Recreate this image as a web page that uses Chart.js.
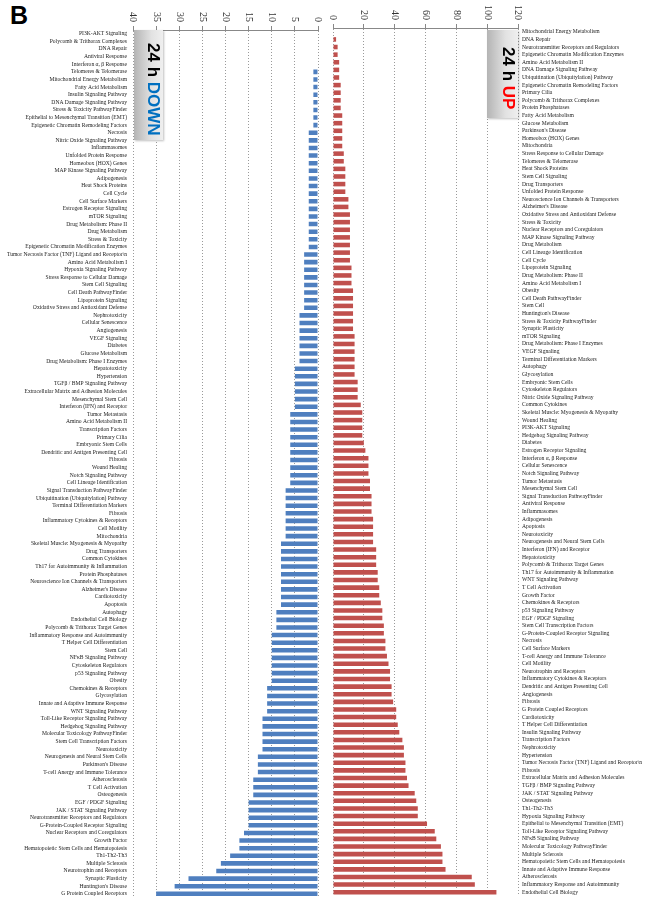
<!DOCTYPE html>
<html>
<head>
<meta charset="utf-8">
<script src="https://cdn.jsdelivr.net/npm/chart.js@4/dist/chart.umd.min.js"></script>
<style>
  body { margin: 0; background: #fff; }
  #wrap { position: relative; width: 655px; height: 907px; overflow: hidden; }
  canvas { position: absolute; top: 0; }
  .tag { position: absolute; font: bold 17px "Liberation Sans", Arial, sans-serif;
         writing-mode: vertical-rl; text-align: center; padding-top: 8px; box-sizing: border-box;
         background: linear-gradient(to right, #b4b4b4, #e2e2e2 60%, #efefef);
         box-shadow: 1px 1px 2px rgba(0,0,0,0.25); }
  #letter { position: absolute; left: 10px; top: 1px; font: bold 25px "Liberation Sans", Arial, sans-serif; }
</style>
</head>
<body>
<div id="wrap">
  <div id="letter">B</div>
  <canvas id="down" width="328" height="907" style="left:0"></canvas>
  <canvas id="up" width="335" height="907" style="left:320px"></canvas>
  <div class="tag" style="left:134px; top:30px; width:29px; height:110px">24 h <span style="color:#0070c0">DOWN</span></div>
  <div class="tag" style="left:487px; top:30px; width:31px; height:88px">24 h <span style="color:#ff0000">UP</span></div>
</div>
<script>
// 24 h DOWN
const downLabels = [
  "PI3K-AKT Signaling", "Polycomb & Trithorax Complexes", "DNA Repair", "Antiviral Response",
  "Interferon α, β Response", "Telomeres & Telomerase", "Mitochondrial Energy Metabolism",
  "Fatty Acid Metabolism", "Insulin Signaling Pathway", "DNA Damage Signaling Pathway",
  "Stress & Toxicity PathwayFinder", "Epithelial to Mesenchymal Transition (EMT)",
  "Epigenetic Chromatin Remodeling Factors", "Necrosis", "Nitric Oxide Signaling Pathway",
  "Inflammasomes", "Unfolded Protein Response", "Homeobox (HOX) Genes", "MAP Kinase Signaling Pathway",
  "Adipogenesis", "Heat Shock Proteins", "Cell Cycle", "Cell Surface Markers",
  "Estrogen Receptor Signaling", "mTOR Signaling", "Drug Metabolism: Phase II", "Drug Metabolism",
  "Stress & Toxicity", "Epigenetic Chromatin Modification Enzymes",
  "Tumor Necrosis Factor (TNF) Ligand and Receptor\\n", "Amino Acid Metabolism I",
  "Hypoxia Signaling Pathway", "Stress Response to Cellular Damage", "Stem Cell Signaling",
  "Cell Death PathwayFinder", "Lipoprotein Signaling", "Oxidative Stress and Antioxidant Defense",
  "Nephrotoxicity", "Cellular Senescence", "Angiogenesis", "VEGF Signaling", "Diabetes",
  "Glucose Metabolism", "Drug Metabolism: Phase I Enzymes", "Hepatotoxicity", "Hypertension",
  "TGFβ / BMP Signaling Pathway", "Extracellular Matrix and Adhesion Molecules",
  "Mesenchymal Stem Cell", "Interferon (IFN) and Receptor", "Tumor Metastasis",
  "Amino Acid Metabolism II", "Transcription Factors", "Primary Cilia", "Embryonic Stem Cells",
  "Dendritic and Antigen Presenting Cell", "Fibrosis", "Wound Healing", "Notch Signaling Pathway",
  "Cell Lineage Identification", "Signal Transduction PathwayFinder",
  "Ubiquitination (Ubiquitylation) Pathway", "Terminal Differentiation Markers", "Fibrosis",
  "Inflammatory Cytokines & Receptors", "Cell Motility", "Mitochondria",
  "Skeletal Muscle: Myogenesis & Myopathy", "Drug Transporters", "Common Cytokines",
  "Th17 for Autoimmunity & Inflammation", "Protein Phosphatases",
  "Neuroscience Ion Channels & Transporters", "Alzheimer's Disease", "Cardiotoxicity", "Apoptosis",
  "Autophagy", "Endothelial Cell Biology", "Polycomb & Trithorax Target Genes",
  "Inflammatory Response and Autoimmunity", "T Helper Cell Differentiation", "Stem Cell",
  "NFκB Signaling Pathway", "Cytoskeleton Regulators", "p53 Signaling Pathway", "Obesity",
  "Chemokines & Receptors", "Glycosylation", "Innate and Adaptive Immune Response",
  "WNT Signaling Pathway", "Toll-Like Receptor Signaling Pathway", "Hedgehog Signaling Pathway",
  "Molecular Toxicology PathwayFinder", "Stem Cell Transcription Factors", "Neurotoxicity",
  "Neurogenesis and Neural Stem Cells", "Parkinson's Disease", "T-cell Anergy and Immune Tolerance",
  "Atherosclerosis", "T Cell Activation", "Osteogenesis", "EGF / PDGF Signaling",
  "JAK / STAT Signaling Pathway", "Neurotransmitter Receptors and Regulators",
  "G-Protein-Coupled Receptor Signaling", "Nuclear Receptors and Coregulators", "Growth Factor",
  "Hematopoietic Stem Cells and Hematopoiesis", "Th1-Th2-Th3", "Multiple Sclerosis",
  "Neurotrophin and Receptors", "Synaptic Plasticity", "Huntington's Disease",
  "G Protein Coupled Receptors"
];
const downValues = [
  0, 0, 0, 0, 0,
  1, 1, 1, 1, 1, 1, 1, 1,
  2, 2, 2, 2, 2, 2, 2, 2, 2, 2, 2, 2, 2, 2, 2, 2,
  3, 3, 3, 3, 3, 3, 3, 3,
  4, 4, 4, 4, 4, 4, 4,
  5, 5, 5, 5, 5, 5,
  6, 6, 6, 6, 6, 6, 6, 6, 6, 6,
  7, 7, 7, 7, 7, 7, 7,
  8, 8, 8, 8, 8, 8, 8, 8, 8,
  9, 9, 9,
  10, 10, 10, 10, 10, 10, 10,
  11, 11, 11, 11,
  12, 12, 12, 12, 12,
  13, 13, 13,
  14, 14, 14,
  15, 15, 15, 15,
  16, 17, 17, 19, 21, 22, 28, 31, 35
];

// 24 h UP
const upLabels = [
  "Mitochondrial Energy Metabolism", "DNA Repair", "Neurotransmitter Receptors and Regulators",
  "Epigenetic Chromatin Modification Enzymes", "Amino Acid Metabolism II",
  "DNA Damage Signaling Pathway", "Ubiquitination (Ubiquitylation) Pathway",
  "Epigenetic Chromatin Remodeling Factors", "Primary Cilia", "Polycomb & Trithorax Complexes",
  "Protein Phosphatases", "Fatty Acid Metabolism", "Glucose Metabolism", "Parkinson's Disease",
  "Homeobox (HOX) Genes", "Mitochondria", "Stress Response to Cellular Damage",
  "Telomeres & Telomerase", "Heat Shock Proteins", "Stem Cell Signaling", "Drug Transporters",
  "Unfolded Protein Response", "Neuroscience Ion Channels & Transporters", "Alzheimer's Disease",
  "Oxidative Stress and Antioxidant Defense", "Stress & Toxicity",
  "Nuclear Receptors and Coregulators", "MAP Kinase Signaling Pathway", "Drug Metabolism",
  "Cell Lineage Identification", "Cell Cycle", "Lipoprotein Signaling", "Drug Metabolism: Phase II",
  "Amino Acid Metabolism I", "Obesity", "Cell Death PathwayFinder", "Stem Cell",
  "Huntington's Disease", "Stress & Toxicity PathwayFinder", "Synaptic Plasticity", "mTOR Signaling",
  "Drug Metabolism: Phase I Enzymes", "VEGF Signaling", "Terminal Differentiation Markers",
  "Autophagy", "Glycosylation", "Embryonic Stem Cells", "Cytoskeleton Regulators",
  "Nitric Oxide Signaling Pathway", "Common Cytokines", "Skeletal Muscle: Myogenesis & Myopathy",
  "Wound Healing", "PI3K-AKT Signaling", "Hedgehog Signaling Pathway", "Diabetes",
  "Estrogen Receptor Signaling", "Interferon α, β Response", "Cellular Senescence",
  "Notch Signaling Pathway", "Tumor Metastasis", "Mesenchymal Stem Cell",
  "Signal Transduction PathwayFinder", "Antiviral Response", "Inflammasomes", "Adipogenesis",
  "Apoptosis", "Neurotoxicity", "Neurogenesis and Neural Stem Cells", "Interferon (IFN) and Receptor",
  "Hepatotoxicity", "Polycomb & Trithorax Target Genes", "Th17 for Autoimmunity & Inflammation",
  "WNT Signaling Pathway", "T Cell Activation", "Growth Factor", "Chemokines & Receptors",
  "p53 Signaling Pathway", "EGF / PDGF Signaling", "Stem Cell Transcription Factors",
  "G-Protein-Coupled Receptor Signaling", "Necrosis", "Cell Surface Markers",
  "T-cell Anergy and Immune Tolerance", "Cell Motility", "Neurotrophin and Receptors",
  "Inflammatory Cytokines & Receptors", "Dendritic and Antigen Presenting Cell", "Angiogenesis",
  "Fibrosis", "G Protein Coupled Receptors", "Cardiotoxicity", "T Helper Cell Differentiation",
  "Insulin Signaling Pathway", "Transcription Factors", "Nephrotoxicity", "Hypertension",
  "Tumor Necrosis Factor (TNF) Ligand and Receptor\\n", "Fibrosis",
  "Extracellular Matrix and Adhesion Molecules", "TGFβ / BMP Signaling Pathway",
  "JAK / STAT Signaling Pathway", "Osteogenesis", "Th1-Th2-Th3", "Hypoxia Signaling Pathway",
  "Epithelial to Mesenchymal Transition (EMT)", "Toll-Like Receptor Signaling Pathway",
  "NFκB Signaling Pathway", "Molecular Toxicology PathwayFinder", "Multiple Sclerosis",
  "Hematopoietic Stem Cells and Hematopoiesis", "Innate and Adaptive Immune Response",
  "Atherosclerosis", "Inflammatory Response and Autoimmunity", "Endothelial Cell Biology"
];
const upValues = [
  0, 2, 3, 3, 4, 4, 4, 5, 5, 5, 5,
  6, 6, 6, 6, 6, 7, 7, 8, 8, 8, 8, 10, 10,
  11, 11, 11, 11, 11, 11, 11, 12, 12, 12,
  13, 13, 13, 13, 13, 13, 14, 14, 14, 14, 14, 14,
  16, 16, 16, 18, 19, 19, 19, 19, 20, 21,
  23, 23, 23, 24, 24, 25, 25, 25, 26, 26, 26, 26,
  28, 28, 28, 29, 29, 30, 30, 31, 32, 32, 33, 33, 34, 34,
  35, 36, 37, 37, 38, 38, 39, 41, 41, 42, 43, 45, 46, 46, 47, 47,
  48, 49, 53, 54, 55, 55, 61, 66, 67, 70, 71, 71, 73, 90, 92, 106
];

const downMax = 40, downStep = 5;
const upMax = 120, upStep = 20;

// numbers on the top axis, turned a quarter clockwise
const topTicks = {
  id: 'topTicks',
  afterDraw(chart) {
    const s = chart.scales.x;
    const ctx = chart.ctx;
    ctx.save();
    ctx.font = '10px "Liberation Serif", serif';
    ctx.fillStyle = '#333';
    ctx.textAlign = 'right';
    ctx.textBaseline = 'middle';
    s.ticks.forEach(t => {
      ctx.save();
      ctx.translate(s.getPixelForValue(t.value), s.top - 4);
      ctx.rotate(Math.PI / 2);
      ctx.fillText(String(t.value), 0, 0);
      ctx.restore();
    });
    ctx.restore();
  }
};

function makeChart(id, labels, values, color, max, step, side, pad, yWidth) {
  return new Chart(document.getElementById(id), {
    type: 'bar',
    data: {
      labels: labels,
      datasets: [{ data: values, backgroundColor: color, categoryPercentage: 1, barPercentage: 0.6 }]
    },
    options: {
      indexAxis: 'y',
      responsive: false,
      animation: false,
      layout: { padding: pad },
      plugins: { legend: { display: false }, tooltip: { enabled: false } },
      scales: {
        x: {
          position: 'top',
          reverse: side === 'left',
          min: 0, max: max,
          ticks: { stepSize: step, display: false },
          grid: { color: '#9a9a9a', lineWidth: 1, tickLength: 4, tickColor: '#888', tickBorderDash: [] },
          border: { display: true, color: '#888', width: 1, dash: [1, 2] }
        },
        y: {
          position: side,
          afterFit: s => { s.width = yWidth; },
          grid: { display: false, drawTicks: false },
          border: { display: false },
          ticks: {
            autoSkip: false,
            padding: side === 'left' ? 6 : 4,
            color: '#222',
            font: { family: '"Liberation Serif", serif', size: 5.6 }
          }
        }
      }
    },
    plugins: [topTicks]
  });
}

makeChart('down', downLabels, downValues, '#4f7fbf', downMax, downStep, 'left',
  { top: 26, bottom: 8, left: 0, right: 10 }, 133);
makeChart('up', upLabels, upValues, '#c0504d', upMax, upStep, 'right',
  { top: 24, bottom: 11, left: 13, right: 0 }, 137);
</script>
</body>
</html>
